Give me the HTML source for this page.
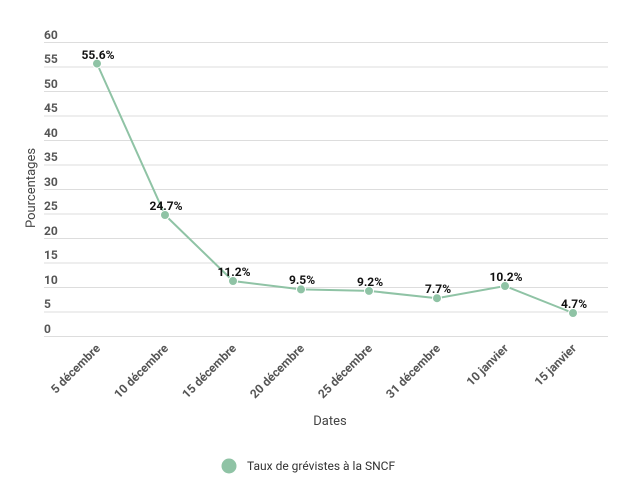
<!DOCTYPE html>
<html><head><meta charset="utf-8"><style>body{margin:0;background:#fff}</style></head><body>
<svg width="637" height="485" xmlns="http://www.w3.org/2000/svg" font-family="Roboto,'Liberation Sans',sans-serif">
<g stroke="#ddd" stroke-width="1">
<line x1="44" x2="608" y1="42.5" y2="42.5"/><line x1="44" x2="608" y1="67" y2="67"/><line x1="44" x2="608" y1="91.5" y2="91.5"/><line x1="44" x2="608" y1="116" y2="116"/><line x1="44" x2="608" y1="140.5" y2="140.5"/><line x1="44" x2="608" y1="165" y2="165"/><line x1="44" x2="608" y1="189.5" y2="189.5"/><line x1="44" x2="608" y1="214" y2="214"/><line x1="44" x2="608" y1="238.5" y2="238.5"/><line x1="44" x2="608" y1="263" y2="263"/><line x1="44" x2="608" y1="287.5" y2="287.5"/><line x1="44" x2="608" y1="312" y2="312"/><line x1="44" x2="608" y1="336.5" y2="336.5"/>
</g>
<g font-size="12" font-weight="bold" fill="#555">
<text x="44" y="39">60</text><text x="44" y="63">55</text><text x="44" y="88">50</text><text x="44" y="112">45</text><text x="44" y="137">40</text><text x="44" y="161">35</text><text x="44" y="186">30</text><text x="44" y="210">25</text><text x="44" y="235">20</text><text x="44" y="259">15</text><text x="44" y="284">10</text><text x="44" y="308">5</text><text x="44" y="333">0</text>
</g>
<text transform="translate(35,188) rotate(-90)" text-anchor="middle" font-size="13" fill="#444">Pourcentages</text>
<polyline fill="none" stroke="#8fc3a5" stroke-width="2" points="97,63.6 165,215 233,281 301,289.4 369,290.9 437,298.2 505,286 573,313"/>
<g fill="#8fc3a5" stroke="#fff" stroke-width="1">
<circle cx="97" cy="63.6" r="4.5"/><circle cx="165" cy="215" r="4.5"/><circle cx="233" cy="281" r="4.5"/><circle cx="301" cy="289.4" r="4.5"/><circle cx="369" cy="290.9" r="4.5"/><circle cx="437" cy="298.2" r="4.5"/><circle cx="505" cy="286" r="4.5"/><circle cx="573" cy="313" r="4.5"/>
</g>
<g font-size="12" font-weight="bold" fill="#111" text-anchor="middle">
<text x="98" y="59">55.6%</text><text x="166" y="210">24.7%</text><text x="234" y="276">11.2%</text><text x="302" y="284">9.5%</text><text x="370" y="286">9.2%</text><text x="438" y="293">7.7%</text><text x="506" y="281">10.2%</text><text x="574" y="308">4.7%</text>
</g>
<g font-size="12" font-weight="bold" fill="#555" text-anchor="end">
<text transform="translate(101,349) rotate(-45)">5 décembre</text>
<text transform="translate(169,349) rotate(-45)">10 décembre</text>
<text transform="translate(237,349) rotate(-45)">15 décembre</text>
<text transform="translate(305,349) rotate(-45)">20 décembre</text>
<text transform="translate(373,349) rotate(-45)">25 décembre</text>
<text transform="translate(441,349) rotate(-45)">31 décembre</text>
<text transform="translate(509,349) rotate(-45)">10 janvier</text>
<text transform="translate(577,349) rotate(-45)">15 janvier</text>
</g>
<text x="330" y="425" text-anchor="middle" font-size="13" fill="#444">Dates</text>
<circle cx="229" cy="466" r="7.5" fill="#8fc3a5"/>
<text x="247" y="470" font-size="12" fill="#333">Taux de grévistes à la SNCF</text>
</svg>
</body></html>
